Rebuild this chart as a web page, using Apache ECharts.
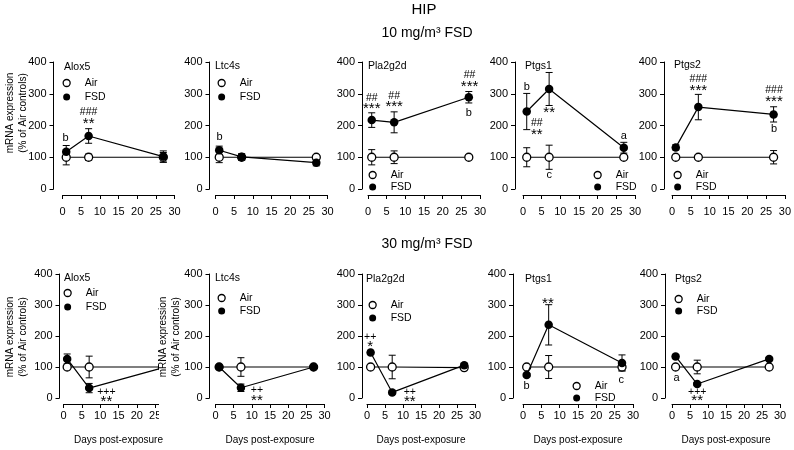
<!DOCTYPE html>
<html><head><meta charset="utf-8">
<script src="https://cdn.jsdelivr.net/npm/echarts@6/dist/echarts.min.js"></script>
<style>html,body{margin:0;padding:0;background:#fff}#c{width:794px;height:450px}</style>
</head><body><div id="c"></div>
<script>
// ---------------- data ----------------
const days = [1, 7, 27];
const genes = ['Alox5', 'Ltc4s', 'Pla2g2d', 'Ptgs1', 'Ptgs2'];
const xTickStep = 5;            // x ticks 0..30
const yTickStep = 100;          // y ticks 0..400
const xMax = 30, yMax = 400;

// 10 mg/m3 FSD (top row), % of Air controls, per gene at days 1, 7, 27
const air10    = [[100,100,100],[100,100,100],[100,100,100],[100,100,100],[100,100,100]];
const air10Err = [[24,10,15],[17,10,5],[24,20,7],[30,38,5],[3,7,21]];
const fsd10    = [[117,167,102],[122,101,83],[217,210,289],[244,315,130],[131,258,235]];
const fsd10Err = [[20,23,18],[13,10,10],[23,33,18],[57,52,17],[8,40,24]];

// 30 mg/m3 FSD (bottom row)
const air30    = [[100,100,100],[100,100,100],[100,100,98],[100,100,100],[100,100,100]];
const air30Err = [[5,35,5],[5,30,3],[3,38,3],[5,37,12],[3,22,3]];
const fsd30    = [[126,32,97],[100,33,100],[147,18,106],[74,236,113],[134,45,126]];
const fsd30Err = [[16,15,5],[5,12,5],[5,5,5],[5,65,26],[5,5,5]];

// significance marks: [panel, day, value, text]
const marks10 = [
  [0, 0.8, 162, 'b'], [0, 7, 243, '###'], [0, 7, 206, '**'],
  [1, 1.1, 163, 'b'],
  [2, 1, 286, '##'], [2, 1, 252, '***'], [2, 7, 293, '##'], [2, 7, 259, '***'],
  [2, 27.2, 359, '##'], [2, 27.2, 323, '***'], [2, 27, 240, 'b'],
  [3, 1, 322, 'b'], [3, 3.7, 207, '##'], [3, 3.7, 170, '**'], [3, 7, 240, '**'],
  [3, 27, 167, 'a'], [3, 7, 44, 'c'],
  [4, 7, 345, '###'], [4, 7, 310, '***'], [4, 27.1, 310, '###'], [4, 27.1, 274, '***'], [4, 27.1, 188, 'b']
];
const marks30 = [
  [0, 11.7, 20, '+++'], [0, 11.7, -12, '**'],
  [1, 11.4, 24, '++'], [1, 11.4, -10, '**'],
  [2, 0.9, 195, '++'], [2, 0.9, 164, '*'], [2, 11.9, 20, '++'], [2, 11.9, -13, '**'],
  [3, 6.8, 305, '**'], [3, 1, 39, 'b'], [3, 26.8, 58, 'c'],
  [4, 1.3, 64, 'a'], [4, 7, 20, '+++'], [4, 7, -10, '**']
];

// ---------------- layout ----------------
const FONT = '"Liberation Sans", Arial, sans-serif';
const rows = [
  { top: 62, height: 127, lefts: [62.5, 215.5, 368, 523, 672], widths: [112, 112, 112, 112, 113],
    yOff: [9, 6, 6, 8, 8], xLabelMargin: 11,
    air: air10, airErr: air10Err, fsd: fsd10, fsdErr: fsd10Err, marks: marks10,
    legendAt: [[66, 83, 2], [221, 83, 2], [372, 175, 0], [597, 175, 0], [677, 175, 0]],
    geneAt: [[64, 67], [215, 66], [368, 66], [525, 66], [674, 65]], xName: '' },
  { top: 274, height: 124, lefts: [63.5, 215.5, 367, 523, 672], widths: [110, 109, 108, 110, 108],
    yOff: [4, 6, 5, 10, 7], xLabelMargin: 6,
    air: air30, airErr: air30Err, fsd: fsd30, fsdErr: fsd30Err, marks: marks30,
    legendAt: [[67, 293, 2], [221, 298, 1], [372, 305, 1], [576, 386, 0], [678, 299, 0]],
    geneAt: [[64, 278], [215, 278], [366, 279], [525, 279], [675, 279]], xName: 'Days post-exposure' }
];

function errRender(params, api) {
  const x = api.value(0), y = api.value(1), e = api.value(2);
  const t = api.coord([x, y + e]);
  const b = api.coord([x, y - e]);
  const hw = 3.5;
  const st = { stroke: '#000', lineWidth: 1 };
  return { type: 'group', children: [
    { type: 'line', shape: { x1: t[0], y1: t[1], x2: b[0], y2: b[1] }, style: st },
    { type: 'line', shape: { x1: t[0] - hw, y1: t[1], x2: t[0] + hw, y2: t[1] }, style: st },
    { type: 'line', shape: { x1: b[0] - hw, y1: b[1], x2: b[0] + hw, y2: b[1] }, style: st }
  ]};
}

function markRender(marks) {
  return function (params, api) {
    const m = marks[params.dataIndex];
    const p = api.coord([m[1], m[2]]);
    const txt = m[3];
    let size = 11, weight = 'normal';
    if (/\*/.test(txt)) { size = 15; weight = 'normal'; }
    else if (/#/.test(txt)) { size = 10.5; }
    else if (/\+/.test(txt)) { size = 10.5; }
    return { type: 'text', x: p[0], y: p[1],
      style: { text: txt, fill: '#000', fontSize: size, fontWeight: weight, fontFamily: FONT,
               align: 'center', verticalAlign: 'middle' } };
  };
}

const grid = [], xAxis = [], yAxis = [], series = [], legend = [], graphic = [];
rows.forEach((row, r) => {
  genes.forEach((gene, i) => {
    const g = r * 5 + i;
    grid.push({ left: row.lefts[i], top: row.top, width: row.widths[i], height: row.height });
    xAxis.push({
      gridIndex: g, type: 'value', min: 0, max: xMax, interval: xTickStep, offset: 6,
      axisLine: { show: true, onZero: false, lineStyle: { color: '#000', width: 1 } },
      axisTick: { show: true, length: 4, lineStyle: { color: '#000' } },
      axisLabel: { fontSize: 11, color: '#000', margin: row.xLabelMargin, fontFamily: FONT },
      splitLine: { show: false },
      name: row.xName, nameLocation: 'middle', nameGap: 31,
      nameTextStyle: { fontSize: 10, color: '#000', fontFamily: FONT }
    });
    yAxis.push({
      gridIndex: g, type: 'value', min: 0, max: yMax, interval: yTickStep, offset: row.yOff[i],
      axisLine: { show: true, onZero: false, lineStyle: { color: '#000', width: 1 } },
      axisTick: { show: true, length: 4, lineStyle: { color: '#000' } },
      axisLabel: { fontSize: 11, color: '#000', margin: 7, fontFamily: FONT },
      splitLine: { show: false }
    });
    const airPts = days.map((d, k) => [d, row.air[i][k]]);
    const fsdPts = days.map((d, k) => [d, row.fsd[i][k]]);
    series.push({
      type: 'custom', xAxisIndex: g, yAxisIndex: g, renderItem: errRender, z: 1, silent: true, clip: false,
      encode: { x: 0, y: 1 },
      data: days.map((d, k) => [d, row.air[i][k], row.airErr[i][k]])
    });
    series.push({
      type: 'custom', xAxisIndex: g, yAxisIndex: g, renderItem: errRender, z: 1, silent: true, clip: false,
      encode: { x: 0, y: 1 },
      data: days.map((d, k) => [d, row.fsd[i][k], row.fsdErr[i][k]])
    });
    series.push({
      name: 'Air', type: 'line', xAxisIndex: g, yAxisIndex: g, data: airPts, z: 2,
      symbol: 'circle', symbolSize: 8, showSymbol: true,
      itemStyle: { color: '#fff', borderColor: '#000', borderWidth: 1.3 },
      lineStyle: { color: '#000', width: 1.2 }, emphasis: { disabled: true }, silent: true
    });
    series.push({
      name: 'FSD', type: 'line', xAxisIndex: g, yAxisIndex: g, data: fsdPts, z: 3,
      symbol: 'circle', symbolSize: 8.5,
      itemStyle: { color: '#000' },
      lineStyle: { color: '#000', width: 1.2 }, emphasis: { disabled: true }, silent: true
    });
    const mk = row.marks.filter(m => m[0] === i);
    series.push({
      type: 'custom', xAxisIndex: g, yAxisIndex: g, z: 5, silent: true, clip: false,
      renderItem: markRender(mk), encode: { x: 0, y: 1 },
      data: mk.map(m => [m[1], m[2]])
    });
    const la = row.legendAt[i];
    legend.push({
      left: la[0] - 3.5, top: la[1] - 6, orient: 'vertical', padding: 0, itemGap: la[2],
      itemWidth: 7, itemHeight: 7, selectedMode: false,
      textStyle: { fontSize: 10.5, color: '#000', fontFamily: FONT, lineHeight: 12, padding: [0, 0, 0, 9.5] },
      data: [
        { name: 'Air', icon: 'circle', itemStyle: { color: '#fff', borderColor: '#000', borderWidth: 1.3 } },
        { name: 'FSD', icon: 'circle', itemStyle: { color: '#000', borderWidth: 0 } }
      ]
    });
    const ga = row.geneAt[i];
    graphic.push({ type: 'text', x: ga[0], y: ga[1], z: 10,
      style: { text: gene, fontSize: 10.5, fontFamily: FONT, fill: '#000',
               align: 'left', verticalAlign: 'middle', textAlign: 'left', textVerticalAlign: 'middle' } });
  });
});

// cover: panel 2 (bottom row) overlaps the right edge of panel 1 in the original figure
graphic.push({ type: 'rect', shape: { x: 159, y: 266, width: 22, height: 170 }, style: { fill: '#fff' }, z: 100 });

const yLabel = 'mRNA expression\n(% of Air controls)';
[[16.5, 113], [16.5, 337], [170, 337]].forEach(p => {
  graphic.push({ type: 'text', x: p[0], y: p[1], rotation: Math.PI / 2, z: 101,
    style: { text: yLabel, fontSize: 10, lineHeight: 13, fontFamily: FONT, fill: '#000',
             align: 'center', verticalAlign: 'middle', textAlign: 'center', textVerticalAlign: 'middle' } });
});
[['HIP', 424, 10, 15], ['10 mg/m³ FSD', 427, 33, 14], ['30 mg/m³ FSD', 427, 244, 14]].forEach(t => {
  graphic.push({ type: 'text', x: t[1], y: t[2], z: 10,
    style: { text: t[0], fontSize: t[3], fontFamily: FONT, fill: '#000',
             align: 'center', verticalAlign: 'middle', textAlign: 'center', textVerticalAlign: 'middle' } });
});

const chart = echarts.init(document.getElementById('c'), null, { renderer: 'canvas' });
chart.setOption({
  animation: false,
  backgroundColor: '#fff',
  textStyle: { fontFamily: FONT },
  grid, xAxis, yAxis, series, legend, graphic
});
</script></body></html>
